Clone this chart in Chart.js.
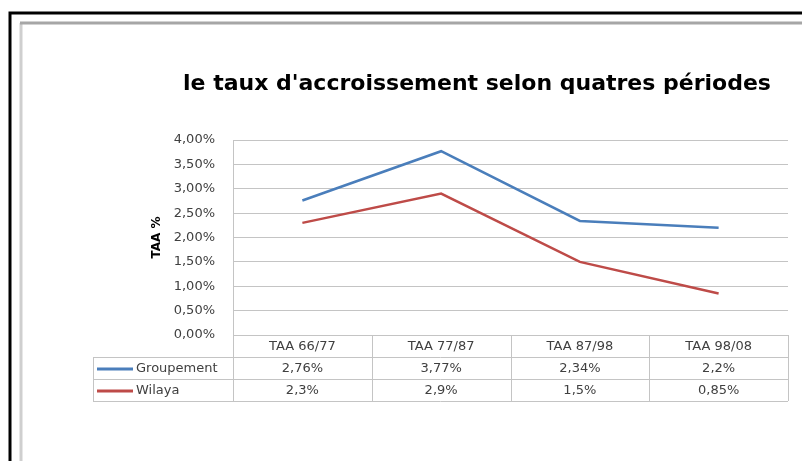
<!DOCTYPE html>
<html>
<head>
<meta charset="utf-8">
<script src="https://cdn.jsdelivr.net/npm/chart.js@4"></script>
<style>
  body { margin: 0; background: #fff; }
  #forChart { width: 802px; height: 461px; }
</style>
</head>
<body>
<div id="forChart"><canvas id="myChart"></canvas></div>
<script>
const periodes = ['TAA 66/77', 'TAA 77/87', 'TAA 87/98', 'TAA 98/08'];
const groupement = [2.76, 3.77, 2.34, 2.2];
const wilaya = [2.3, 2.9, 1.5, 0.85];
const titre = "le taux d'accroissement selon quatres périodes";

const FONT = "'DejaVu Sans', sans-serif";
const gridColor = '#c4c4c4';

function fmt(v) {
    return String(v).replace('.', ',') + '%';
}

// frames + title + data table under the plot
const decor = {
    id: 'decor',
    beforeDraw(chart) {
        const ctx = chart.ctx;
        ctx.save();
        ctx.fillStyle = '#fff';
        ctx.fillRect(0, 0, chart.width, chart.height);
        // outer black frame
        ctx.strokeStyle = '#000';
        ctx.lineWidth = 3;
        ctx.beginPath();
        ctx.moveTo(10, chart.height + 5);
        ctx.lineTo(10, 13);
        ctx.lineTo(chart.width + 5, 13);
        ctx.stroke();
        // inner grey frame
        ctx.lineWidth = 3;
        ctx.strokeStyle = '#cfcfcf';
        ctx.beginPath();
        ctx.moveTo(21, chart.height + 5);
        ctx.lineTo(21, 23);
        ctx.stroke();
        ctx.strokeStyle = '#a6a6a6';
        ctx.beginPath();
        ctx.moveTo(20, 23);
        ctx.lineTo(chart.width + 5, 23);
        ctx.stroke();
        // title
        ctx.fillStyle = '#000';
        ctx.font = 'bold 22px ' + FONT;
        ctx.textAlign = 'center';
        ctx.textBaseline = 'middle';
        ctx.fillText(titre, 477, 84);
        ctx.restore();
    },
    afterDraw(chart) {
        const ctx = chart.ctx;
        const x = chart.scales.x;
        const area = chart.chartArea;
        const colW = (x.right - x.left) / periodes.length;
        const rowH = 22;
        const top = area.bottom;
        const legendLeft = 93;
        const series = chart.data.datasets;
        const bottom = top + rowH * (series.length + 1);

        ctx.save();
        ctx.strokeStyle = gridColor;
        ctx.lineWidth = 1;
        ctx.beginPath();
        // vertical lines
        for (let i = 0; i <= periodes.length; i++) {
            const px = Math.round(x.left + i * colW) + 0.5;
            ctx.moveTo(px, top);
            ctx.lineTo(px, bottom);
        }
        ctx.moveTo(legendLeft + 0.5, top + rowH);
        ctx.lineTo(legendLeft + 0.5, bottom);
        // horizontal lines
        for (let r = 1; r <= series.length + 1; r++) {
            const py = Math.round(top + r * rowH) + 0.5;
            ctx.moveTo(legendLeft, py);
            ctx.lineTo(x.right, py);
        }
        ctx.stroke();

        ctx.font = '13px ' + FONT;
        ctx.fillStyle = '#404040';
        ctx.textBaseline = 'middle';
        ctx.textAlign = 'center';
        periodes.forEach(function(p, i) {
            ctx.fillText(p, x.getPixelForValue(i), top + rowH / 2 + 1);
        });
        series.forEach(function(ds, r) {
            const cy = top + rowH * (r + 1) + rowH / 2 + 1;
            ctx.textAlign = 'center';
            ds.data.forEach(function(v, i) {
                ctx.fillText(fmt(v), x.getPixelForValue(i), cy);
            });
            ctx.strokeStyle = ds.borderColor;
            ctx.lineWidth = 3;
            ctx.beginPath();
            ctx.moveTo(legendLeft + 4, cy);
            ctx.lineTo(legendLeft + 40, cy);
            ctx.stroke();
            ctx.textAlign = 'left';
            ctx.fillText(ds.label, legendLeft + 43, cy);
        });
        ctx.restore();
    }
};

const data = {
    labels: periodes,
    datasets: [{
        label: 'Groupement',
        data: groupement,
        borderColor: '#4a7ebb',
        backgroundColor: '#4a7ebb',
        borderWidth: 2.5,
        pointRadius: 0,
        tension: 0
    }, {
        label: 'Wilaya',
        data: wilaya,
        borderColor: '#be4b48',
        backgroundColor: '#be4b48',
        borderWidth: 2.5,
        pointRadius: 0,
        tension: 0
    }]
};

const config = {
    type: 'line',
    data: data,
    options: {
        responsive: true,
        maintainAspectRatio: false,
        animation: false,
        layout: { padding: { left: 148, right: 14, top: 140, bottom: 126 } },
        plugins: {
            legend: { display: false },
            tooltip: { enabled: false }
        },
        scales: {
            x: {
                display: false,
                offset: true
            },
            y: {
                min: 0,
                max: 4,
                afterFit: function(scale) { scale.width = 85; },
                ticks: {
                    stepSize: 0.5,
                    padding: 18,
                    color: '#404040',
                    font: { family: FONT, size: 13 },
                    callback: function(v) { return v.toFixed(2).replace('.', ',') + '%'; }
                },
                grid: { color: gridColor, drawTicks: false },
                border: { color: gridColor },
                title: {
                    display: true,
                    text: 'TAA %',
                    color: '#000',
                    font: { family: FONT, size: 12, weight: 'bold' },
                    padding: { top: 2, bottom: 0 }
                }
            }
        }
    },
    plugins: [decor]
};

const myChart = new Chart(document.getElementById('myChart'), config);
</script>
</body>
</html>
